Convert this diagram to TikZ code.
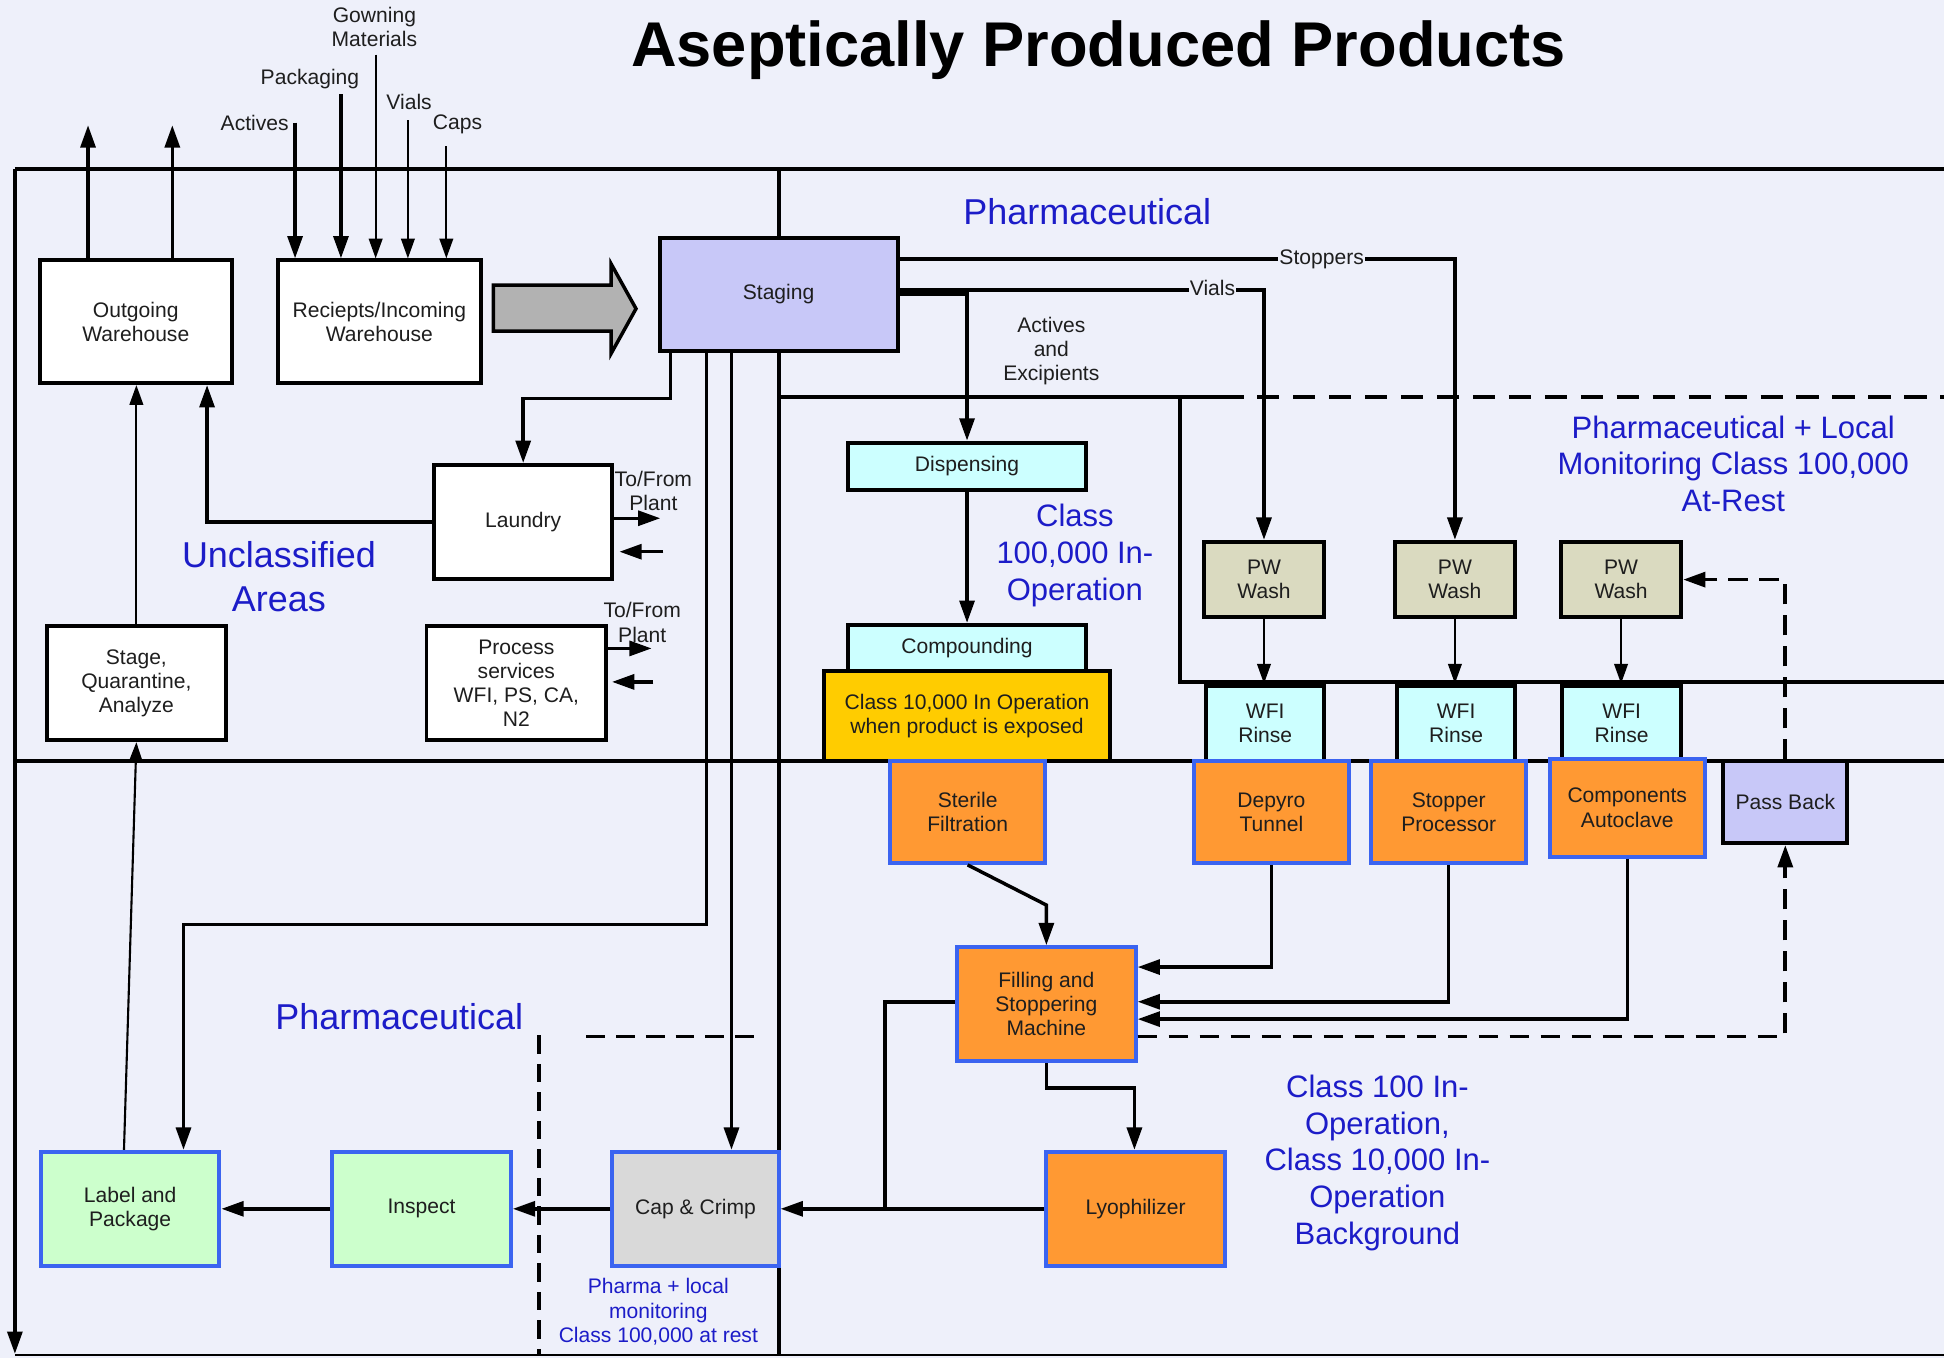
\documentclass[tikz,border=0pt]{standalone}
\usepackage{fontspec}
\setmainfont{Liberation Sans}
\usetikzlibrary{arrows.meta}
\definecolor{bgc}{RGB}{238,240,250}
\definecolor{stagefill}{RGB}{200,200,248}
\definecolor{cyanfill}{RGB}{204,255,255}
\definecolor{washfill}{RGB}{218,218,192}
\definecolor{goldfill}{RGB}{255,204,0}
\definecolor{orangefill}{RGB}{255,153,51}
\definecolor{greenfill}{RGB}{204,255,204}
\definecolor{greyfill}{RGB}{217,217,217}
\definecolor{edgeblue}{RGB}{59,100,240}
\definecolor{zoneblue}{RGB}{28,28,200}
\definecolor{arrowgrey}{RGB}{178,178,178}
\definecolor{inktext}{RGB}{30,30,30}

\begin{document}
\begin{tikzpicture}[x=1pt,y=-1pt,
  bx/.style={draw=black, line width=3.2pt, align=center, inner sep=2pt,
    font=\fontsize{17}{19.5}\selectfont, text=inktext},
  bbx/.style={bx, draw=edgeblue},
  lbl/.style={align=center, inner sep=1pt, font=\fontsize{17}{19.5}\selectfont, text=inktext},
  zone/.style={align=center, inner sep=0pt, text=zoneblue, font=\fontsize{25}{29.5}\selectfont},
  zonebig/.style={align=center, inner sep=0pt, text=zoneblue, font=\fontsize{29}{35}\selectfont},
  wall/.style={line width=3.2pt},
  conn/.style={line width=2.8pt},
  tip/.style={-{Triangle[length=18pt,width=12pt]}},
  arr/.style={conn, tip},
  thinline/.style={line width=1.7pt},
  arrthin/.style={thinline, -{Triangle[length=16pt,width=11pt]}},
  dsh/.style={line width=3pt, dash pattern=on 16pt off 9pt},
]
% page background
\fill[bgc] (0,0) rectangle (1568,1095);
\useasboundingbox (0,0) rectangle (1568,1095);

% title
\node[font=\bfseries\fontsize{51}{60}\selectfont, anchor=base, inner sep=0pt] (title) at (886,54) {Aseptically Produced Products};

% ---- room walls ----
\draw[wall] (12,136) -- (1568,136);
\draw[wall] (628,136) -- (628,1093);
\draw[wall] (12,614) -- (1568,614);
\draw[wall] (628,320) -- (985,320);
\draw[wall, dash pattern=on 18pt off 11pt] (985,320) -- (1568,320);
\draw[wall] (952,320) -- (952,550) -- (1568,550);
\draw[line width=2pt] (12,1093) -- (1568,1093);
\draw[line width=2.8pt, tip] (12,136) -- (12,1092);
\draw[dsh, dash pattern=on 15pt off 8pt] (435,835) -- (435,1093);
\draw[dsh, dash pattern=on 15pt off 9pt] (473,836) -- (615,836);

% ---- zone captions ----
\node[zonebig] (zPharmTop) at (877,171) {Pharmaceutical};
\node[zonebig] (zUncl) at (225,465) {Unclassified\\Areas};
\node[zonebig] (zPharmLow) at (322,820) {Pharmaceutical};
\node[zone] (zC100k) at (867,448) {Class\\100,000 In-\\Operation};
\node[zone] (zLocal) at (1398,374) {Pharmaceutical + Local\\Monitoring Class 100,000\\At-Rest};
\node[zone] (zC100) at (1111,938) {Class 100 In-\\Operation,\\Class 10,000 In-\\Operation\\Background};
\node[lbl, text=zoneblue] (zRest) at (531,1058) {Pharma + local\\monitoring\\Class 100,000 at rest};

% ---- boxes ----
\node[bx, fill=white, minimum width=155pt, minimum height=99pt] (out) at (109.5,259.5) {Outgoing\\Warehouse};
\node[bx, fill=white, minimum width=164pt, minimum height=99pt] (rec) at (306,259.5) {Reciepts/Incoming\\Warehouse};
\node[bx, fill=stagefill, minimum width=192pt, minimum height=91pt] (stag) at (628,237.5) {Staging};
\node[bx, fill=white, minimum width=144pt, minimum height=92pt] (laund) at (422,421) {Laundry};
\node[bx, fill=white, minimum width=144pt, minimum height=92pt] (sqa) at (110,551) {Stage,\\Quarantine,\\Analyze};
\node[bx, fill=white, minimum width=145pt, minimum height=92pt] (psv) at (416.5,551) {Process\\services\\WFI, PS, CA,\\N2};

\node[bx, fill=cyanfill, minimum width=192pt, minimum height=38pt] (disp) at (780,376) {Dispensing};
\node[bx, fill=cyanfill, minimum width=192pt, minimum height=37pt] (comp) at (780,522.5) {Compounding};
\node[bx, fill=goldfill, minimum width=230pt, minimum height=73pt] (gold) at (780,577.5) {Class 10,000 In Operation\\when product is exposed};

\node[bx, fill=washfill, minimum width=97pt, minimum height=61pt] (pw1) at (1019.5,467.5) {PW\\Wash};
\node[bx, fill=washfill, minimum width=97pt, minimum height=61pt] (pw2) at (1173.5,467.5) {PW\\Wash};
\node[bx, fill=washfill, minimum width=97pt, minimum height=61pt] (pw3) at (1307.5,467.5) {PW\\Wash};
\node[bx, fill=cyanfill, minimum width=95pt, minimum height=61pt] (wf1) at (1020.5,583.5) {WFI\\Rinse};
\node[bx, fill=cyanfill, minimum width=95pt, minimum height=61pt] (wf2) at (1174.5,583.5) {WFI\\Rinse};
\node[bx, fill=cyanfill, minimum width=96pt, minimum height=61pt] (wf3) at (1308,583.5) {WFI\\Rinse};

\node[bbx, fill=orangefill, minimum width=125pt, minimum height=82pt] (ster) at (780.5,655) {Sterile\\Filtration};
\node[bbx, fill=orangefill, minimum width=125pt, minimum height=82pt] (depy) at (1025.5,655) {Depyro\\Tunnel};
\node[bbx, fill=orangefill, minimum width=125pt, minimum height=82pt] (stpp) at (1168.5,655) {Stopper\\Processor};
\node[bbx, fill=orangefill, minimum width=125pt, minimum height=79pt] (auto) at (1312.5,651.5) {Components\\Autoclave};
\node[bx, fill=stagefill, minimum width=100pt, minimum height=66pt] (pass) at (1440,647) {Pass Back};

\node[bbx, fill=orangefill, minimum width=144pt, minimum height=92pt] (fill) at (844,810) {Filling and\\Stoppering\\Machine};
\node[bbx, fill=orangefill, minimum width=144pt, minimum height=92pt] (lyo) at (916,975) {Lyophilizer};
\node[bbx, fill=greyfill, minimum width=134pt, minimum height=92pt] (cap) at (561,975) {Cap \& Crimp};
\node[bbx, fill=greenfill, minimum width=144pt, minimum height=92pt] (insp) at (340,975) {Inspect};
\node[bbx, fill=greenfill, minimum width=144pt, minimum height=92pt] (lab) at (105,975) {Label and\\Package};

% ---- incoming supplies ----
\coordinate (srcAct) at (238,99);
\coordinate (srcPack) at (275,76);
\coordinate (srcGown) at (303,44);
\coordinate (srcVial) at (329,97);
\coordinate (srcCap) at (360,118);
\draw[arr] (srcAct) -- (srcAct |- rec.north);
\draw[arr] (srcPack) -- (srcPack |- rec.north);
\draw[arrthin] (srcGown) -- (srcGown |- rec.north);
\draw[arrthin] (srcVial) -- (srcVial |- rec.north);
\draw[arrthin] (srcCap) -- (srcCap |- rec.north);
\node[lbl, anchor=east] (lAct) at (234,99) {Actives};
\node[lbl] (lPack) at (250,64) {Packaging};
\node[lbl] (lGown) at (302,22) {Gowning\\Materials};
\node[lbl] (lVial) at (330,82) {Vials};
\node[lbl] (lCap) at (369,100) {Caps};

% ---- outgoing shipments ----
\coordinate (exA) at (71,101);
\coordinate (exB) at (139,101);
\draw[arr] (exA |- out.north) -- (exA);
\draw[arr] (exB |- out.north) -- (exB);

% receipts to staging
\draw[line width=2.8pt, fill=arrowgrey] (398,230) -- (493,230) -- (493,213) -- (513,249)
  -- (493,285) -- (493,267) -- (398,267) -- cycle;

% ---- unclassified area flows ----
\draw[arr] ([xshift=-87pt]stag.south) -- ++(0,37) -| (laund.north);
\draw[arr] (laund.west) -| ([xshift=57.5pt]out.south);
\draw[arrthin] (sqa.north) -- (sqa.north |- out.south);
\draw[arrthin] ([xshift=-5pt]lab.north) -- (sqa.south);
\node[lbl] (tfA) at (527,396) {To/From\\Plant};
\node[lbl] (tfB) at (518,502) {To/From\\Plant};
\coordinate (laIn) at (535,445);
\coordinate (psIn) at (527,550);
\draw[arr] ([yshift=3pt]laund.east) -- ++(37,0);
\draw[arr] (laIn) -- ([xshift=4pt]laIn -| laund.east);
\draw[arr] ([yshift=28pt]psv.east) -- ++(35,0);
\draw[arr] (psIn) -- ([xshift=3pt]psIn -| psv.east);

% ---- staging feeds ----
\draw[arr] ([xshift=-58pt]stag.south) -- ++(0,461) -| ([xshift=43pt]lab.north);
\draw[arr] ([xshift=-38pt]stag.south) -- ([xshift=29pt]cap.north);
\draw[conn, tip] ([yshift=28.5pt]stag.east) -| (pw2.north);
\draw[conn, tip] ([yshift=3.5pt]stag.east) -| (pw1.north);
\draw[arr] ([yshift=0.5pt]stag.east) -| (disp.north);
\node[lbl, fill=bgc] (lStop) at (1066,209) {Stoppers};
\node[lbl, fill=bgc] (lVia) at (978,232) {Vials};
\node[lbl] (lAE) at (848,283) {Actives\\and\\Excipients};

% ---- aseptic core ----
\draw[arr] (disp.south) -- (comp.north);
\draw[arrthin] (pw1.south) -- (pw1.south |- wf1.north);
\draw[arrthin] (pw2.south) -- (pw2.south |- wf2.north);
\draw[arrthin] (pw3.south) -- (pw3.south |- wf3.north);
\coordinate (sfBend) at (844,730);
\draw[arr] (ster.south) -- (sfBend) -- (fill.north);
\draw[arr] (depy.south) |- ([yshift=30pt]fill.east);
\draw[arr] (stpp.south) |- ([yshift=2pt]fill.east);
\draw[arr] (auto.south) |- ([yshift=-12pt]fill.east);
\draw[dsh, tip] ([yshift=-26pt]fill.east) -| (pass.south);
\draw[dsh, tip] (pass.north) |- (pw3.east);
\draw[arr] (fill.south) -- ++(0,20) -| ([xshift=-1pt]lyo.north);
\coordinate (jn) at (714,975);
\draw[conn] ([yshift=2pt]fill.west) -| (jn);
\draw[arr] (lyo.west) -- (cap.east);
\draw[arr] (cap.west) -- (insp.east);
\draw[arr] (insp.west) -- (lab.east);
\end{tikzpicture}
\end{document}
